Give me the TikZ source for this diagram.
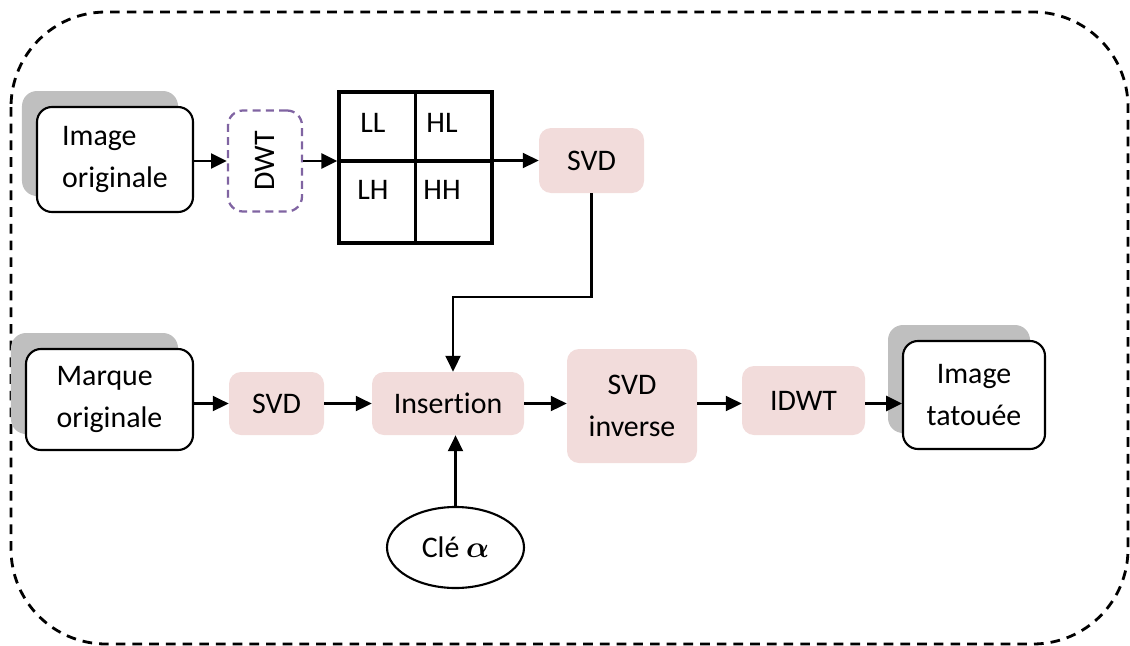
\documentclass[tikz,border=0pt]{standalone}
\usepackage{amsmath,bm}
\usepackage{fontspec}
\setmainfont{Carlito}[Ligatures=NoCommon]
\usetikzlibrary{arrows.meta,shapes.geometric,shadows}

\definecolor{rose}{RGB}{242,220,219}
\definecolor{dwtviolet}{RGB}{128,100,162}
\definecolor{ombre}{RGB}{191,191,191}

\tikzset{
	bloc/.style={fill=rose, rounded corners=2.4mm, align=center, inner sep=0pt},
	entree/.style={draw, line width=1.2pt, fill=white, rounded corners=3mm, inner sep=0pt,
		general shadow={fill=ombre, draw=none, shadow xshift=-3mm, shadow yshift=3.2mm}},
	fleche/.style={line width=1.4pt, -{Triangle[length=9pt,width=8.5pt]}},
}

\begin{document}
\begin{tikzpicture}[x=0.2mm,y=-0.2mm,font=\fontsize{17}{23.5}\selectfont]
		\useasboundingbox (0,0) rectangle (1130,646);
		\draw[line width=1.6pt, dash pattern=on 5.5pt off 4pt, rounded corners=19mm] (11,12) rectangle (1128,644);

		\node[entree, minimum width=31.2mm, minimum height=21mm, align=left] (img) at (115,159.5) {Image\\originale};
		\node[draw=dwtviolet, dash pattern=on 4.5pt off 3pt, line width=1.3pt, rounded corners=3mm, minimum width=14.8mm, minimum height=20.2mm, inner sep=0pt] (dwt) at (265,161) {\rotatebox{90}{DWT}};

		\node[draw, line width=2pt, minimum width=30.6mm, minimum height=30.2mm, inner sep=0pt] (grille) at (415.5,167.5) {};
		\draw[line width=2pt] (grille.north) -- (grille.south);
		\draw[line width=2pt] (grille.west |- 0,161) -- (grille.east |- 0,161);
		\node (ll) at (373,123) {LL};
		\node (hl) at (442,123) {HL};
		\node (lh) at (373,190) {LH};
		\node (hh) at (442,190) {HH};

		\node[bloc, minimum width=21mm, minimum height=13mm] (svdA) at (591.5,160.5) {SVD};

		\node[entree, minimum width=33.4mm, minimum height=20.2mm, align=left] (marque) at (109.5,399.5) {Marque\\originale};
		\node[bloc, minimum width=19mm, minimum height=12.6mm] (svdB) at (276.5,403.5) {SVD};
		\node[bloc, minimum width=30.4mm, minimum height=12.6mm] (ins) at (448,403.5) {Insertion};
		\node[bloc, minimum width=26mm, minimum height=22.8mm] (inv) at (632,406) {SVD\\inverse};
		\node[bloc, minimum width=24.6mm, minimum height=13.8mm] (idwt) at (803.5,400.5) {IDWT};
		\node[entree, minimum width=28.4mm, minimum height=21.6mm, align=center] (out) at (974,395) {Image\\tatouée};

		\node[draw, ellipse, line width=1.2pt, minimum width=27.4mm, minimum height=16.2mm, inner sep=0pt] (cle) at (455.5,547.5) {Clé $\bm{\alpha}$};

		\draw[fleche] (img.east |- dwt) -- (dwt.west);
		\draw[fleche] (dwt.east) -- (dwt.east -| grille.west);
		\draw[fleche] (grille.east |- svdA) -- (svdA.west);

		\coordinate (coude) at (453,297);
		\draw[fleche] (svdA.south) |- (coude) -- (coude |- ins.north);

		\draw[fleche] (marque.east |- svdB) -- (svdB.west);
		\draw[fleche] (svdB.east) -- (ins.west);
		\draw[fleche] (ins.east) -- (ins.east -| inv.west);
		\draw[fleche] (inv.east |- ins) -- (idwt.west |- ins);
		\draw[fleche] (idwt.east |- ins) -- (out.west |- ins);
		\draw[fleche] (cle.north) -- (cle.north |- ins.south);

	\end{tikzpicture}
\end{document}
